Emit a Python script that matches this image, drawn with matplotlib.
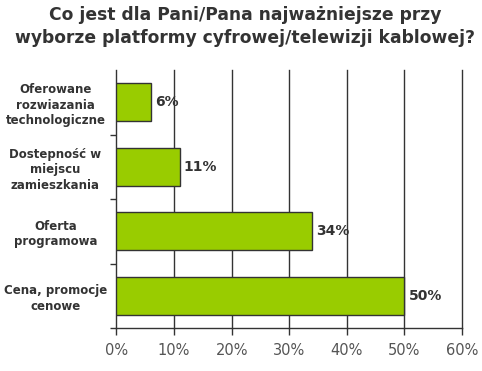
import matplotlib
matplotlib.use("Agg")
import matplotlib.pyplot as plt
import numpy as np

plt.rcParams["font.family"] = ["DejaVu Sans"]

categories = ["Oferowane\nrozwiazania\ntechnologiczne",
              "Dostepność w\nmiejscu\nzamieszkania",
              "Oferta\nprogramowa",
              "Cena, promocje\ncenowe"]
values = [6, 11, 34, 50]
xticks = [0, 10, 20, 30, 40, 50, 60]
xticklabels = ["0%", "10%", "20%", "30%", "40%", "50%", "60%"]
title = "Co jest dla Pani/Pana najważniejsze przy\nwyborze platformy cyfrowej/telewizji kablowej?"

fig = plt.figure(figsize=(4.82, 3.71), dpi=100)
ax = fig.add_axes([0.2417, 0.1159, 0.7168, 0.6954])

y = np.arange(len(categories))
ax.barh(y, values, height=0.59, color="#99cc00", edgecolor="#333333", linewidth=1.0, zorder=3)
ax.set_ylim(3.5, -0.5)
ax.set_xlim(0, 60)

for v in xticks[1:]:
    ax.axvline(v, color="#333333", linewidth=1.0, zorder=1, clip_on=False)

ax.set_xticks(xticks)
ax.set_xticklabels(xticklabels, color="#555555", fontsize=10.5)
ax.tick_params(axis="x", length=5, width=1, color="#333333", pad=6, direction="out")

ax.set_yticks(y)
ax.set_yticklabels(categories, fontsize=8.5, fontweight="bold", color="#333333",
                   ha="center", multialignment="center", linespacing=1.25)
ax.tick_params(axis="y", which="major", length=0, pad=44)
ax.set_yticks([0.5, 1.5, 2.5, 3.5], minor=True)
ax.tick_params(axis="y", which="minor", length=4, width=1, color="#333333", direction="out")

for s in ["top", "right"]:
    ax.spines[s].set_visible(False)
for s in ["left", "bottom"]:
    ax.spines[s].set_color("#333333")
    ax.spines[s].set_linewidth(1.0)

for yi, v in zip(y, values):
    ax.text(v + 0.7, yi, f"{v}%", va="center", ha="left", fontsize=10,
            fontweight="bold", color="#333333", zorder=4)

fig.text(0.508, 0.985, title, ha="center", va="top", fontsize=12.3,
         fontweight="bold", color="#333333", linespacing=1.38)

fig.savefig("out.png", dpi=100)
